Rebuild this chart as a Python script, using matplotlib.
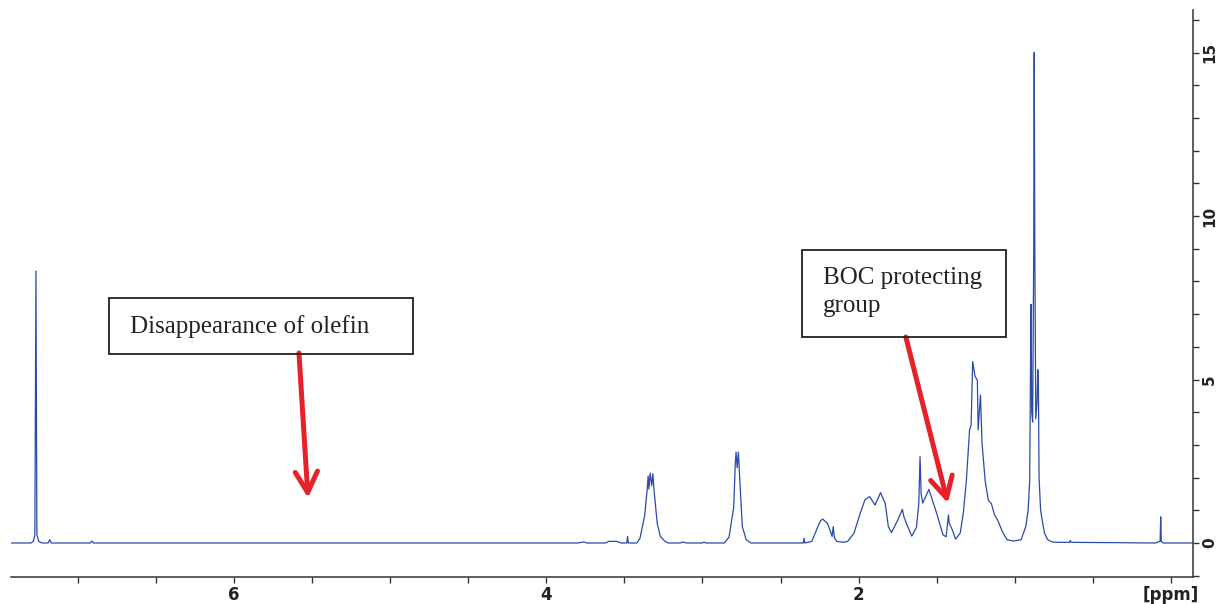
import matplotlib
matplotlib.use("Agg")
import matplotlib.pyplot as plt
from matplotlib.patches import Rectangle
from matplotlib.ticker import FixedLocator, MultipleLocator

# traced spectrum (ppm, intensity), left to right
ppm = [7.43, 7.30, 7.285, 7.275, 7.268, 7.262, 7.25, 7.23, 7.19, 7.18, 7.17,
       6.92, 6.91, 6.90,
       3.80, 3.76, 3.74, 3.62, 3.60, 3.55, 3.52, 3.485, 3.48, 3.475,
       3.42, 3.40, 3.37, 3.355, 3.348, 3.343, 3.335, 3.325, 3.318, 3.31, 3.29, 3.27, 3.24, 3.22,
       3.14, 3.13, 3.10, 3.00, 2.99, 2.98,
       2.86, 2.83, 2.80, 2.79, 2.785, 2.778, 2.77, 2.762, 2.745, 2.72, 2.69,
       2.38, 2.355, 2.35, 2.345, 2.30, 2.27, 2.245, 2.23, 2.20, 2.18, 2.17, 2.163, 2.155, 2.14,
       2.10, 2.07, 2.03, 1.99, 1.96, 1.93, 1.895, 1.86, 1.83, 1.81, 1.79, 1.75, 1.72, 1.71,
       1.69, 1.66, 1.63, 1.615, 1.607, 1.60, 1.59, 1.55, 1.50, 1.46, 1.44, 1.425, 1.42, 1.40,
       1.38, 1.35, 1.33, 1.31, 1.29, 1.28, 1.27, 1.255, 1.24, 1.235, 1.22, 1.21, 1.19, 1.17,
       1.15, 1.13, 1.11, 1.08, 1.05, 1.01,
       0.96, 0.93, 0.915, 0.905, 0.898, 0.896, 0.892, 0.886, 0.879, 0.876, 0.872, 0.866,
       0.858, 0.853, 0.849, 0.845, 0.835, 0.825, 0.81, 0.79, 0.76,
       0.72, 0.65, 0.645, 0.64, 0.10, 0.07, 0.066, 0.062, 0.05, -0.141]
intensity = [0.0, 0.0, 0.05, 0.25, 8.32, 0.25, 0.05, 0.0, 0.0, 0.1, 0.0,
             0.0, 0.06, 0.0,
             0.0, 0.03, 0.0, 0.0, 0.05, 0.05, 0.0, 0.0, 0.2, 0.0,
             0.0, 0.15, 0.85, 1.6, 2.05, 1.65, 2.14, 1.75, 2.12, 1.6, 0.6, 0.2, 0.05, 0.0,
             0.0, 0.03, 0.0, 0.0, 0.03, 0.0,
             0.0, 0.18, 1.1, 2.45, 2.78, 2.3, 2.78, 2.0, 0.5, 0.1, 0.0,
             0.0, 0.0, 0.15, 0.0, 0.05, 0.4, 0.68, 0.73, 0.6, 0.35, 0.2, 0.5, 0.15, 0.05,
             0.02, 0.05, 0.3, 0.91, 1.32, 1.42, 1.16, 1.54, 1.21, 0.5, 0.32, 0.70, 1.03, 0.8,
             0.55, 0.21, 0.48, 1.2, 2.64, 1.5, 1.22, 1.64, 0.9, 0.25, 0.19, 0.86, 0.6, 0.4,
             0.12, 0.3, 0.91, 1.93, 3.46, 3.6, 5.55, 5.1, 4.98, 3.46, 4.53, 3.05, 1.9, 1.31,
             1.2, 0.86, 0.7, 0.35, 0.1, 0.06,
             0.1, 0.5, 1.0, 1.9, 6.5, 7.3, 4.0, 3.7, 9.0, 15.0, 9.0, 3.8,
             4.3, 5.3, 4.8, 2.0, 1.0, 0.7, 0.3, 0.1, 0.03,
             0.02, 0.02, 0.08, 0.02, 0.0, 0.05, 0.8, 0.05, 0.0, 0.0]

x_ticks = [6, 4, 2, 0]
x_labels = ["6", "4", "2", "[ppm]"]
y_ticks = [0, 5, 10, 15]

blue = "#2b4ba8"
red = "#e8202a"

fig = plt.figure(figsize=(12.19, 6.04), dpi=100)
ax = fig.add_axes([0.009, 0.0447, 0.9697, 0.9387])

ax.plot(ppm, intensity, color=blue, lw=0.9)

ax.set_xlim(7.428, -0.141)
ax.set_ylim(-1.04, 16.3)

for s in ["top", "left"]:
    ax.spines[s].set_visible(False)
for s in ["right", "bottom"]:
    ax.spines[s].set_linewidth(1.1)
    ax.spines[s].set_color("#333333")

ax.xaxis.set_major_locator(FixedLocator(x_ticks))
ax.set_xticklabels(x_labels, fontsize=12, fontweight="bold", color="#222222")
ax.xaxis.set_minor_locator(MultipleLocator(0.5))
ax.tick_params(axis="x", which="both", direction="out", length=4, width=1.0,
               color="#333333", pad=2.5)

ax.yaxis.tick_right()
ax.yaxis.set_major_locator(FixedLocator(y_ticks))
ax.yaxis.set_minor_locator(MultipleLocator(1))
ax.tick_params(axis="y", which="both", direction="out", length=4.5, width=1.0,
               color="#333333", pad=2)
for lab in ax.get_yticklabels():
    lab.set_rotation(90)
    lab.set_fontsize(11)
    lab.set_fontweight("bold")
    lab.set_color("#222222")
    lab.set_va("center")

# annotation boxes
ax.add_patch(Rectangle((4.854, 5.78), 6.80 - 4.854, 7.49 - 5.78, fill=False,
                       ec="#222222", lw=1.3, zorder=5))
ax.text(6.666, 6.42, "Disappearance of olefin", family="Liberation Serif",
        fontsize=18, va="baseline", ha="left", color="#222222")

ax.add_patch(Rectangle((1.058, 6.30), 2.364 - 1.058, 8.96 - 6.30, fill=False,
                       ec="#222222", lw=1.3, zorder=5))
ax.text(2.229, 7.92, "BOC protecting", family="Liberation Serif",
        fontsize=18, va="baseline", ha="left", color="#222222")
ax.text(2.229, 7.06, "group", family="Liberation Serif",
        fontsize=18, va="baseline", ha="left", color="#222222")

arrow = dict(arrowstyle="->,head_length=0.75,head_width=0.4", color=red, lw=3.6,
             shrinkA=0, shrinkB=0, mutation_scale=20)
ax.annotate("", xy=(5.526, 1.38), xytext=(5.584, 5.81), arrowprops=arrow)
ax.annotate("", xy=(1.429, 1.22), xytext=(1.698, 6.30), arrowprops=arrow)

fig.savefig("out.png", dpi=100)
